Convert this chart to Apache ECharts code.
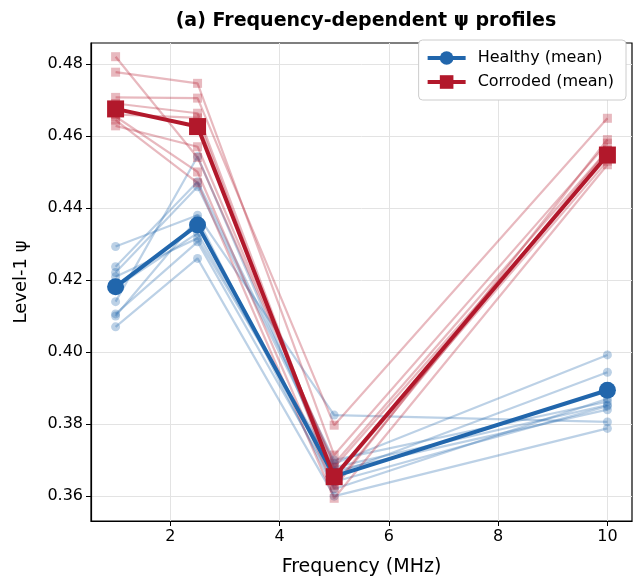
<!DOCTYPE html>
<html>
<head>
<meta charset="utf-8">
<script src="https://cdn.jsdelivr.net/npm/echarts@6/dist/echarts.min.js"></script>
<style>html,body{margin:0;padding:0;background:#fff;}#c{width:634px;height:576px;}</style>
</head>
<body>
<div id="c"></div>
<script>
var frequencies = [1, 2.5, 5, 10];
var xTicks = [2, 4, 6, 8, 10];
var yTicks = [0.36, 0.38, 0.40, 0.42, 0.44, 0.46, 0.48];

var healthySamples = [
  [0.4293, 0.4380, 0.3825, 0.3806],
  [0.4237, 0.4473, 0.3700, 0.3862],
  [0.4221, 0.4459, 0.3690, 0.3992],
  [0.4209, 0.4316, 0.3680, 0.3853],
  [0.4140, 0.4543, 0.3660, 0.3944],
  [0.4106, 0.4306, 0.3640, 0.3850],
  [0.4100, 0.4370, 0.3620, 0.3870],
  [0.4070, 0.4260, 0.3600, 0.3788],
  [0.4180, 0.4330, 0.3670, 0.3840]
];
var corrodedSamples = [
  [0.4820, 0.4540, 0.3690, 0.4560],
  [0.4777, 0.4746, 0.3714, 0.4580],
  [0.4707, 0.4705, 0.3797, 0.4649],
  [0.4690, 0.4663, 0.3650, 0.4530],
  [0.4654, 0.4500, 0.3622, 0.4590],
  [0.4644, 0.4470, 0.3594, 0.4520],
  [0.4628, 0.4570, 0.3680, 0.4540],
  [0.4660, 0.4650, 0.3630, 0.4560]
];
var healthyMean = [0.4181, 0.4353, 0.3655, 0.3894];
var corrodedMean = [0.4675, 0.4626, 0.3654, 0.4547];

var BLUE = '#2166ac', RED = '#b2182b';
var FONT = 'DejaVu Sans';

function pts(vals) { return frequencies.map(function (f, i) { return [f, vals[i]]; }); }

var series = [];
healthySamples.forEach(function (s, i) {
  series.push({
    name: 'h' + i, type: 'line', data: pts(s), symbol: 'circle', symbolSize: 9,
    lineStyle: { color: BLUE, width: 2.2, opacity: 0.3 },
    itemStyle: { color: BLUE, opacity: 0.3 }, z: 2, silent: true, animation: false
  });
});
corrodedSamples.forEach(function (s, i) {
  series.push({
    name: 'c' + i, type: 'line', data: pts(s), symbol: 'rect', symbolSize: 9,
    lineStyle: { color: RED, width: 2.2, opacity: 0.3 },
    itemStyle: { color: RED, opacity: 0.3 }, z: 2, silent: true, animation: false
  });
});
series.push({
  name: 'Healthy (mean)', type: 'line', data: pts(healthyMean), symbol: 'circle', symbolSize: 17,
  lineStyle: { color: BLUE, width: 4 }, itemStyle: { color: BLUE }, z: 5, animation: false
});
series.push({
  name: 'Corroded (mean)', type: 'line', data: pts(corrodedMean), symbol: 'rect', symbolSize: 17,
  lineStyle: { color: RED, width: 4 }, itemStyle: { color: RED }, z: 6, animation: false
});

var chart = echarts.init(document.getElementById('c'), null, { renderer: 'canvas' });
chart.setOption({
  backgroundColor: '#fff',
  animation: false,
  textStyle: { fontFamily: FONT },
  title: {
    text: '(a) Frequency-dependent ψ profiles', left: 361, top: 7, textAlign: 'center',
    textStyle: { fontFamily: FONT, fontWeight: 'bold', fontSize: 19, color: '#000' }
  },
  legend: {
    data: ['Healthy (mean)', 'Corroded (mean)'], orient: 'vertical', right: 8, top: 40,
    backgroundColor: '#fff', borderColor: '#cccccc', borderWidth: 1, borderRadius: 4,
    padding: [10, 12, 10, 7], itemGap: 8, itemWidth: 38, itemHeight: 17,
    lineStyle: { width: 4 },
    textStyle: { fontFamily: FONT, fontSize: 16, color: '#000', padding: [0, 0, 0, 7] }
  },
  grid: { left: 91, right: 2, top: 43, bottom: 55, show: true, borderColor: '#000', borderWidth: 1.2,
    backgroundColor: 'transparent', outerBoundsMode: 'none' },
  xAxis: {
    type: 'value', min: 0.55, max: 10.45,
    name: 'Frequency (MHz)', nameLocation: 'middle', nameGap: 37,
    nameTextStyle: { fontFamily: FONT, fontSize: 19, color: '#000' },
    axisLine: { show: true, lineStyle: { color: '#000', width: 1.2 } },
    axisTick: { show: true, length: 5, lineStyle: { color: '#000' }, customValues: xTicks },
    axisLabel: { fontFamily: FONT, fontSize: 16, color: '#000', margin: 8, customValues: xTicks },
    splitLine: { show: true, lineStyle: { color: '#e3e3e3', width: 1 } }
  },
  yAxis: {
    type: 'value', min: 0.3531, max: 0.4858,
    name: 'Level-1 ψ', nameLocation: 'middle', nameGap: 61, nameRotate: 90,
    nameTextStyle: { fontFamily: FONT, fontSize: 18, color: '#000' },
    axisLine: { show: true, lineStyle: { color: '#000', width: 1.2 } },
    axisTick: { show: true, length: 5, lineStyle: { color: '#000' }, customValues: yTicks },
    axisLabel: { fontFamily: FONT, fontSize: 16, color: '#000', margin: 8, customValues: yTicks,
      formatter: function (v) { return v.toFixed(2); } },
    splitLine: { show: true, lineStyle: { color: '#e3e3e3', width: 1 } }
  },
  series: series
});
</script>
</body>
</html>
